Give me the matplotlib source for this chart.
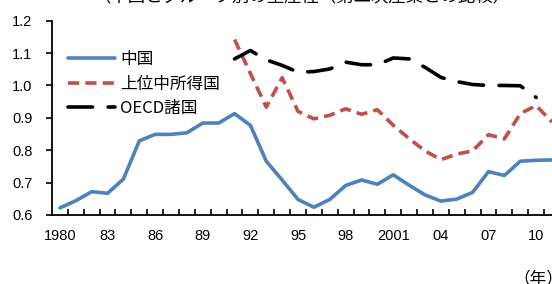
import matplotlib as mpl
import matplotlib.pyplot as plt
from matplotlib.ticker import FixedLocator, MultipleLocator

plt.rcParams['font.family'] = ['Liberation Sans', 'Noto Sans CJK JP', 'DejaVu Sans']

# productivity ratio
years = list(range(1980, 2012))
china = [0.622, 0.644, 0.672, 0.667, 0.711, 0.829, 0.849, 0.849, 0.854, 0.884,
         0.884, 0.913, 0.877, 0.766, 0.708, 0.648, 0.624, 0.648, 0.691, 0.708,
         0.695, 0.724, 0.692, 0.662, 0.643, 0.649, 0.670, 0.734, 0.722, 0.766,
         0.769, 0.770]
umi_years = list(range(1991, 2012))
umi = [1.142, 1.037, 0.933, 1.024, 0.920, 0.897, 0.908, 0.928, 0.911, 0.925,
       0.877, 0.836, 0.798, 0.771, 0.788, 0.798, 0.848, 0.835, 0.913, 0.938,
       0.887]
oecd_years = list(range(1991, 2011))
oecd = [1.082, 1.108, 1.079, 1.062, 1.041, 1.043, 1.051, 1.072, 1.064, 1.064,
        1.085, 1.082, 1.056, 1.025, 1.012, 1.003, 1.000, 1.000, 0.999, 0.963]

tick_years = [1980, 1983, 1986, 1989, 1992, 1995, 1998, 2001, 2004, 2007, 2010]
tick_labels = ['1980', '83', '86', '89', '92', '95', '98', '2001', '04', '07', '10']

W, H = 552, 284
fig = plt.figure(figsize=(W / 100, H / 100), dpi=100)
ax = fig.add_axes([52 / W, 1 - 215 / H, 1 - 52 / W, (215 - 20.7) / H])

lw = 2.6
ax.plot(years, china, color='#4F81BD', lw=lw, solid_joinstyle='round',
        solid_capstyle='round', label='中国')
ax.plot(umi_years, umi, color='#C0504D', lw=lw, dashes=(3.1, 1.7),
        dash_capstyle='butt', label='上位中所得国')
ax.plot(oecd_years, oecd, color='black', lw=lw, dashes=(6.8, 4.3),
        dash_capstyle='round', label='OECD諸国')

ax.set_xlim(1979.5, 2011.0)
ax.set_ylim(0.6, 1.2)
ax.yaxis.set_major_locator(MultipleLocator(0.1))
ax.yaxis.set_major_formatter(mpl.ticker.FormatStrFormatter('%.1f'))
ax.xaxis.set_major_locator(FixedLocator(tick_years))
ax.set_xticklabels(tick_labels)
ax.xaxis.set_minor_locator(FixedLocator([y + 0.5 for y in years]))

for s in ['top', 'right']:
    ax.spines[s].set_visible(False)
for s in ['left', 'bottom']:
    ax.spines[s].set_linewidth(1.3)

ax.tick_params(axis='x', which='major', length=0, pad=10, labelsize=10.5)
ax.tick_params(axis='x', which='minor', direction='in', length=4, width=1.2)
ax.tick_params(axis='y', direction='out', length=4, width=1.2, pad=10,
               labelsize=10.5)

ax.legend(loc='upper left', bbox_to_anchor=(68 / W, 1 - 51 / H),
          bbox_transform=fig.transFigure, frameon=False, borderaxespad=0,
          borderpad=0, handlelength=2.8, handletextpad=0.35, labelspacing=0.45,
          prop={'family': ['Noto Sans CJK JP'], 'size': 12})

fig.text(302 / W, 1 + 3.5 / H, '（中国とグループ別の生産性（第二次産業との比較）',
         ha='center', va='center', fontsize=12.5, family=['Noto Sans CJK JP'])
fig.text(513 / W, 1 - 279 / H, '（年）', ha='left', va='center', fontsize=12,
         family=['Noto Sans CJK JP'])

fig.savefig('out.png', dpi=100)
